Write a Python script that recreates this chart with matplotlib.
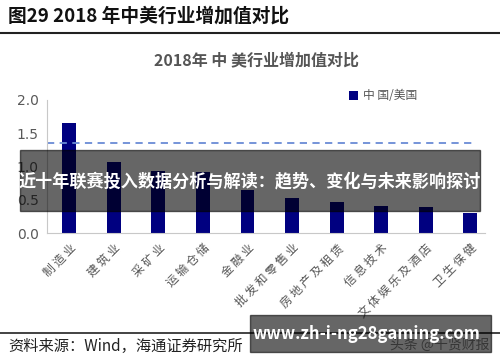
import matplotlib.pyplot as plt
from matplotlib.patches import Rectangle

plt.rcParams['font.family'] = ['Noto Sans CJK SC', 'DejaVu Sans']

# data
industries = ['制造业', '建筑业', '采矿业', '运输仓储', '金融业', '批发和零售业',
              '房地产及租赁', '信息技术', '文体娱乐及酒店', '卫生保健']
ratio = [1.65, 1.07, 0.93, 0.92, 0.65, 0.53, 0.47, 0.41, 0.39, 0.30]
avg_line = 1.36
yticks = [0.0, 0.5, 1.0, 1.5, 2.0]

fig = plt.figure(figsize=(5, 3.62), dpi=100)
ax = fig.add_axes([0.094, 0.356, 0.876, 0.368])

x = list(range(len(industries)))
ax.bar(x, ratio, width=0.31, color='#000080', label='中 国/美国', zorder=2)
ax.axhline(avg_line, xmin=0, xmax=0.98, color='#6a8bd6', linestyle=(0, (4, 3)), linewidth=1.3)

ax.set_xlim(-0.5, 9.33)
ax.set_ylim(0, 2.0)
ax.set_yticks(yticks)
ax.set_yticklabels([f'{v:.1f}' for v in yticks], family='DejaVu Sans', fontsize=10, color='#595959')
ax.set_xticks(x)
# spaced characters, like the wide serif labels of the original
ax.set_xticklabels([' '.join(s) for s in industries], rotation=45, ha='right',
                   rotation_mode='anchor', fontsize=8.5, color='#555555', fontweight='light')
ax.tick_params(axis='both', length=0, pad=6)
for s in ['top', 'right']:
    ax.spines[s].set_visible(False)
for s in ['left', 'bottom']:
    ax.spines[s].set_color('#c8c8c8')

ax.legend(loc='upper left', bbox_to_anchor=(0.665, 1.16), frameon=False, fontsize=8.5,
          handlelength=0.8, handleheight=0.8, handletextpad=0.4, labelcolor='#555555')

# header
fig.text(0.016, 0.955, '图29 2018 年中美行业增加值对比', fontsize=13.5, fontweight='bold',
         color='#111111', va='center')
fig.add_artist(plt.Line2D([0, 1], [1 - 33 / 362] * 2, color='#222222', linewidth=1.5))
fig.text(0.514, 1 - 60 / 362, '2018年 中 美行业增加值对比', fontsize=11.5, fontweight='bold',
         color='#555555', ha='center', va='center')

# footer
fig.add_artist(plt.Line2D([0, 1], [1 - 333 / 362] * 2, color='#222222', linewidth=1.2))
fig.text(0.016, 1 - 346 / 362, '资料来源：Wind，海通证券研究所', fontsize=11,
         color='#222222', va='center')
fig.text(0.98, 1 - 345 / 362, '头条 @千贤财报', fontsize=10, color='#888888', ha='right', va='center')

# overlay banner
fig.add_artist(Rectangle((20 / 500, 1 - 211 / 362), 460 / 500, 61 / 362,
                         transform=fig.transFigure, color='black', alpha=0.6, zorder=5))
fig.text(0.5, 1 - 181 / 362, '近十年联赛投入数据分析与解读：趋势、变化与未来影响探讨',
         fontsize=12.3, fontweight='bold', color='white', ha='center', va='center', zorder=6)

# watermark box
fig.add_artist(Rectangle((250 / 500, 1 - 352 / 362), 241 / 500, 37 / 362,
                         transform=fig.transFigure, color='black', alpha=0.6, zorder=5))
fig.text(253 / 500, 1 - 334 / 362, 'www.zh-i-ng28gaming.com', fontsize=12, fontweight='bold',
         color='white', ha='left', va='center', zorder=6)

fig.savefig('out.png', dpi=100)
